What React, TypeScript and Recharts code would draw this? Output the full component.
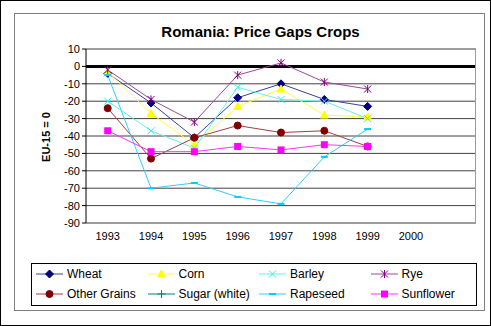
import React from 'react';
import { LineChart, Line, XAxis, YAxis, CartesianGrid, ReferenceLine } from 'recharts';

// last category is an empty slot, like the Excel original
const years = ['1993', '1994', '1995', '1996', '1997', '1998', '1999', '2000', ''];

const wheat = [-4, -21, -41, -18, -10, -19, -23, null, null];
const corn = [-3, -27, -45, -23, -13, -28, -29, null, null];
const barley = [-20, -37, -47, -12, -19, -20, -30, null, null];
const rye = [-2, -19, -32, -5, 2, -9, -13, null, null];
const otherGrains = [-24, -53, -41, -34, -38, -37, -46, null, null];
const sugar = [null, null, null, null, null, null, null, null, null];
const rapeseed = [-5, -70, -67, -75, -79, -52, -36, null, null];
const sunflower = [-37, -49, -49, -46, -48, -45, -46, null, null];

const yTicks = [10, 0, -10, -20, -30, -40, -50, -60, -70, -80, -90];

const data = years.map((year, i) => ({
  year,
  Wheat: wheat[i],
  Corn: corn[i],
  Barley: barley[i],
  Rye: rye[i],
  OtherGrains: otherGrains[i],
  Sugar: sugar[i],
  Rapeseed: rapeseed[i],
  Sunflower: sunflower[i],
}));

type Shape = 'diamond' | 'triangle' | 'x' | 'star' | 'circle' | 'plus' | 'dash' | 'square';

const Marker = ({ shape, color, cx, cy }: { shape: Shape; color: string; cx: number; cy: number }) => {
  switch (shape) {
    case 'diamond':
      return <polygon points={`${cx},${cy - 4} ${cx + 4},${cy} ${cx},${cy + 4} ${cx - 4},${cy}`} fill={color} stroke={color} />;
    case 'triangle':
      return <polygon points={`${cx},${cy - 4} ${cx + 4},${cy + 3} ${cx - 4},${cy + 3}`} fill={color} stroke={color} />;
    case 'x':
      return (
        <g stroke={color} strokeWidth={1}>
          <line x1={cx - 3.5} y1={cy - 3.5} x2={cx + 3.5} y2={cy + 3.5} />
          <line x1={cx - 3.5} y1={cy + 3.5} x2={cx + 3.5} y2={cy - 3.5} />
        </g>
      );
    case 'star':
      return (
        <g stroke={color} strokeWidth={1}>
          <line x1={cx - 3.5} y1={cy - 3.5} x2={cx + 3.5} y2={cy + 3.5} />
          <line x1={cx - 3.5} y1={cy + 3.5} x2={cx + 3.5} y2={cy - 3.5} />
          <line x1={cx} y1={cy - 4} x2={cx} y2={cy + 4} />
        </g>
      );
    case 'circle':
      return <circle cx={cx} cy={cy} r={3.5} fill={color} stroke={color} />;
    case 'plus':
      return (
        <g stroke={color} strokeWidth={1}>
          <line x1={cx - 4} y1={cy} x2={cx + 4} y2={cy} />
          <line x1={cx} y1={cy - 4} x2={cx} y2={cy + 4} />
        </g>
      );
    case 'dash':
      return <rect x={cx - 3.5} y={cy - 1} width={7} height={2} fill={color} />;
    case 'square':
      return <rect x={cx - 3.5} y={cy - 3.5} width={7} height={7} fill={color} />;
  }
  return null;
};

const series: { key: string; name: string; line: string; marker: string; shape: Shape }[] = [
  { key: 'Wheat', name: 'Wheat', line: '#3a3f9a', marker: '#000080', shape: 'diamond' },
  { key: 'Corn', name: 'Corn', line: '#ffff40', marker: '#ffff00', shape: 'triangle' },
  { key: 'Barley', name: 'Barley', line: '#66f0f0', marker: '#33eeee', shape: 'x' },
  { key: 'Rye', name: 'Rye', line: '#9a4a9a', marker: '#800080', shape: 'star' },
  { key: 'OtherGrains', name: 'Other Grains', line: '#a04040', marker: '#800000', shape: 'circle' },
  { key: 'Sugar', name: 'Sugar (white)', line: '#008080', marker: '#008080', shape: 'plus' },
  { key: 'Rapeseed', name: 'Rapeseed', line: '#33ccff', marker: '#00ccff', shape: 'dash' },
  { key: 'Sunflower', name: 'Sunflower', line: '#ff33ff', marker: '#ff00ff', shape: 'square' },
];

const makeDot = (shape: Shape, color: string) => (props: any) => {
  const { cx, cy, index, value } = props;
  if (cx == null || cy == null || value == null) return <g key={`d-${index}`} />;
  return (
    <g key={`d-${index}`}>
      <Marker shape={shape} color={color} cx={cx} cy={cy} />
    </g>
  );
};

const font = 'Arial, "Liberation Sans", sans-serif';

const LegendBox = () => (
  <div
    style={{
      position: 'absolute',
      left: 30,
      top: 262,
      width: 446,
      height: 43,
      border: '1px solid #000',
      boxSizing: 'border-box',
      fontFamily: font,
      fontSize: 12,
      background: '#fff',
    }}
  >
    {series.map((s, i) => {
      const col = i % 4;
      const row = Math.floor(i / 4);
      return (
        <div
          key={s.key}
          style={{ position: 'absolute', left: 4 + col * 111.5, top: 2 + row * 20, height: 16, display: 'flex', alignItems: 'center' }}
        >
          <svg width={28} height={14}>
            <line x1={0} y1={7} x2={27} y2={7} stroke={s.line} strokeWidth={1} />
            <Marker shape={s.shape} color={s.marker} cx={13.5} cy={7} />
          </svg>
          <span style={{ marginLeft: 3, whiteSpace: 'nowrap' }}>{s.name}</span>
        </div>
      );
    })}
  </div>
);

export default function App() {
  return (
    <div
      style={{
        position: 'absolute',
        left: 0,
        top: 0,
        width: 491,
        height: 326,
        background: '#fff',
        border: '1px solid #000',
        boxSizing: 'border-box',
        fontFamily: font,
      }}
    >
      <div
        style={{
          position: 'absolute',
          left: 13,
          top: 12,
          width: 471,
          height: 298,
          border: '1px solid #808080',
          boxSizing: 'border-box',
        }}
      />
      <div
        style={{
          position: 'absolute',
          left: 0,
          top: 22,
          width: 491,
          textAlign: 'center',
          fontSize: 15,
          fontWeight: 'bold',
          paddingLeft: 28,
          boxSizing: 'border-box',
        }}
      >
        Romania: Price Gaps Crops
      </div>
      <div
        style={{
          position: 'absolute',
          left: 45,
          top: 136,
          transform: 'translate(-50%, -50%) rotate(-90deg)',
          fontSize: 11,
          fontWeight: 'bold',
          whiteSpace: 'nowrap',
        }}
      >
        EU-15 = 0
      </div>
      <div style={{ position: 'absolute', left: 0, top: 0 }}>
        <LineChart width={491} height={326} data={data} margin={{ top: 48, right: 16, bottom: 0, left: 0 }}>
          <CartesianGrid vertical={false} horizontal stroke="#404040" strokeWidth={1} />
          <XAxis
            dataKey="year"
            axisLine={false}
            tickLine={false}
            interval={0}
            height={104}
            padding={{ left: 21.7, right: 21.7 }}
            tick={{ fontSize: 11, fill: '#000', fontFamily: font, dy: 1 }}
          />
          <YAxis
            width={85}
            domain={[-90, 10]}
            ticks={yTicks}
            interval={0}
            axisLine={{ stroke: '#000' }}
            tickLine={{ stroke: '#000' }}
            tickSize={4}
            tick={{ fontSize: 11, fill: '#000', fontFamily: font }}
          />
          <ReferenceLine y={10} stroke="#9a9a9a" strokeWidth={1} />
          <ReferenceLine y={-90} stroke="#9a9a9a" strokeWidth={1} />
          <ReferenceLine y={0} stroke="#000" strokeWidth={3} />
          {series.map((s) => (
            <Line
              key={s.key}
              type="linear"
              dataKey={s.key}
              name={s.name}
              stroke={s.line}
              strokeWidth={1}
              dot={makeDot(s.shape, s.marker)}
              activeDot={false}
              connectNulls={false}
              isAnimationActive={false}
            />
          ))}
        </LineChart>
      </div>
      {/* plot area right border */}
      <div style={{ position: 'absolute', left: 474, top: 48, width: 1, height: 175, background: '#9a9a9a' }} />
      <LegendBox />
    </div>
  );
}
